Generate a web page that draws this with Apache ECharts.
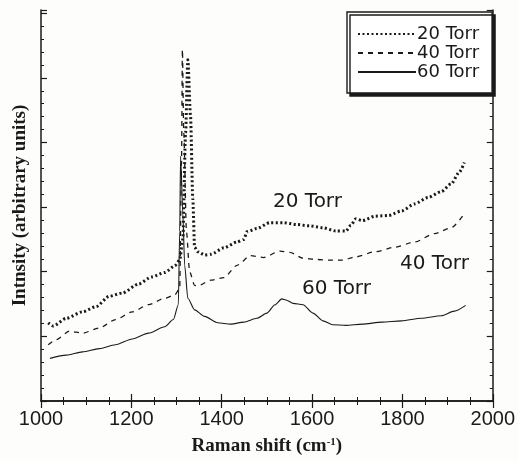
<!DOCTYPE html>
<html>
<head>
<meta charset="utf-8">
<script src="https://cdn.jsdelivr.net/npm/echarts@6/dist/echarts.min.js"></script>
<style>
  html, body { margin: 0; padding: 0; background: #fdfdfb; }
  #main { width: 518px; height: 461px; }
</style>
</head>
<body>
<div id="main"></div>
<script>
// raman spectra (arbitrary units)
const xTicks = ['1000', '1200', '1400', '1600', '1800', '2000'];

const torr20X = [1016, 1027, 1056, 1092, 1122, 1151, 1180, 1216, 1245, 1274, 1296, 1307, 1314, 1320, 1325, 1331, 1336, 1340, 1347, 1362, 1376, 1405, 1434, 1449, 1456, 1478, 1507, 1536, 1566, 1595, 1624, 1653, 1675, 1686, 1697, 1711, 1740, 1769, 1798, 1827, 1857, 1886, 1908, 1926, 1937];
const torr20Y = [1.21, 1.16, 1.28, 1.38, 1.46, 1.62, 1.67, 1.81, 1.92, 1.99, 2.09, 2.18, 2.51, 4.15, 5.28, 4.41, 3.13, 2.38, 2.31, 2.26, 2.27, 2.37, 2.46, 2.50, 2.62, 2.67, 2.76, 2.76, 2.73, 2.71, 2.68, 2.63, 2.63, 2.72, 2.82, 2.79, 2.86, 2.87, 2.94, 3.05, 3.15, 3.24, 3.36, 3.54, 3.69];

const torr40X = [1016, 1034, 1063, 1092, 1129, 1165, 1202, 1238, 1274, 1296, 1307, 1311, 1313, 1316, 1322, 1329, 1340, 1347, 1376, 1405, 1434, 1464, 1493, 1529, 1551, 1580, 1609, 1638, 1667, 1697, 1740, 1784, 1827, 1871, 1908, 1937];
const torr40Y = [0.87, 0.95, 1.08, 1.05, 1.13, 1.26, 1.38, 1.49, 1.59, 1.64, 1.74, 3.64, 5.44, 4.15, 2.62, 2.00, 1.79, 1.78, 1.87, 1.91, 2.10, 2.25, 2.22, 2.32, 2.30, 2.21, 2.19, 2.18, 2.18, 2.23, 2.31, 2.38, 2.46, 2.59, 2.68, 2.90];

const torr60X = [1020, 1056, 1092, 1129, 1165, 1202, 1238, 1274, 1293, 1304, 1307, 1309, 1314, 1318, 1325, 1340, 1362, 1391, 1420, 1449, 1478, 1500, 1518, 1533, 1544, 1558, 1580, 1602, 1624, 1646, 1675, 1711, 1755, 1798, 1842, 1886, 1915, 1940];
const torr60Y = [0.66, 0.71, 0.76, 0.81, 0.87, 0.96, 1.05, 1.15, 1.26, 1.49, 2.62, 3.79, 2.90, 2.10, 1.59, 1.41, 1.31, 1.21, 1.19, 1.22, 1.28, 1.36, 1.49, 1.58, 1.56, 1.51, 1.49, 1.36, 1.24, 1.18, 1.17, 1.19, 1.22, 1.24, 1.28, 1.32, 1.39, 1.48];

function pairs(xs, ys) {
    return xs.map(function (x, i) { return [x, ys[i]]; });
}

const ink = '#1a1a1a';
const sans = 'Liberation Sans, Arial, sans-serif';
const wide = 'DejaVu Sans, Verdana, sans-serif';
const serif = 'Liberation Serif, Times New Roman, serif';

let chart = echarts.init(document.getElementById('main'));

const yAxisBase = {
    type: 'value',
    min: 0,
    max: 6.05,
    interval: 1,
    axisLine: { show: true, lineStyle: { color: ink, width: 1.5 } },
    axisTick: { show: true, inside: true, length: 6, lineStyle: { color: ink, width: 1.2 } },
    minorTick: { show: true, splitNumber: 5, length: 3, lineStyle: { color: ink, width: 1 } },
    axisLabel: { show: false },
    splitLine: { show: false }
};

const xAxisBase = {
    type: 'value',
    min: 1000,
    max: 2000,
    interval: 200,
    axisLine: { show: true, lineStyle: { color: ink, width: 1.5 } },
    axisTick: { show: true, inside: true, length: 7, lineStyle: { color: ink, width: 1.2 } },
    minorTick: { show: true, splitNumber: 4, length: 4, lineStyle: { color: ink, width: 1 } },
    splitLine: { show: false }
};

chart.setOption({
    backgroundColor: '#fdfdfb',
    animation: false,
    grid: { left: 41, right: 19, top: 10, bottom: 58 },
    legend: {
        orient: 'vertical',
        left: 347,
        top: 12,
        padding: [13, 13, 12, 10],
        itemGap: 1,
        itemWidth: 58,
        itemHeight: 15,
        backgroundColor: '#fff',
        borderColor: ink,
        borderWidth: 1.4,
        shadowColor: ink,
        shadowBlur: 0,
        shadowOffsetX: 3,
        shadowOffsetY: 3,
        itemStyle: { opacity: 0 },
        textStyle: { fontFamily: wide, fontSize: 18, color: ink, padding: [0, 0, 0, -4], lineHeight: 15 },
        data: ['20 Torr', '40 Torr', '60 Torr']
    },
    xAxis: [
        Object.assign({}, xAxisBase, {
            position: 'bottom',
            axisLabel: {
                margin: 8,
                fontFamily: sans,
                fontSize: 20,
                color: ink,
                formatter: function (v) { return xTicks.indexOf(String(v)) >= 0 ? String(v) : ''; }
            },
            name: 'Raman shift (cm{sup|-1})',
            nameLocation: 'middle',
            nameGap: 36,
            nameTextStyle: {
                fontFamily: serif,
                fontSize: 19,
                fontWeight: 'bold',
                color: ink,
                rich: { sup: { fontFamily: serif, fontSize: 11, fontWeight: 'bold', verticalAlign: 'top', padding: [0, 0, 8, 0], color: ink } }
            }
        }),
        Object.assign({}, xAxisBase, { position: 'top', axisLabel: { show: false } })
    ],
    yAxis: [
        Object.assign({}, yAxisBase, {
            position: 'left',
            name: 'Intnsity (arbitrary units)',
            nameLocation: 'middle',
            nameGap: 11,
            nameTextStyle: { fontFamily: serif, fontSize: 19, fontWeight: 'bold', color: ink }
        }),
        Object.assign({}, yAxisBase, { position: 'right' })
    ],
    series: [
        {
            name: '20 Torr',
            type: 'line',
            data: pairs(torr20X, torr20Y),
            showSymbol: false,
            symbol: 'none',
            smooth: 0.25,
            smoothMonotone: 'x',
            lineStyle: { color: ink, width: 3, type: [2, 2.5] },
            itemStyle: { color: ink }
        },
        {
            name: '40 Torr',
            type: 'line',
            data: pairs(torr40X, torr40Y),
            showSymbol: false,
            symbol: 'none',
            smooth: 0.25,
            smoothMonotone: 'x',
            lineStyle: { color: ink, width: 1.3, type: [5, 5] },
            itemStyle: { color: ink }
        },
        {
            name: '60 Torr',
            type: 'line',
            data: pairs(torr60X, torr60Y),
            showSymbol: false,
            symbol: 'none',
            smooth: 0.25,
            smoothMonotone: 'x',
            lineStyle: { color: ink, width: 1.1, type: 'solid' },
            itemStyle: { color: ink }
        }
    ],
    graphic: [
        { type: 'text', left: 273, top: 192, style: { text: '20 Torr', font: '20px ' + wide, fill: ink } },
        { type: 'text', left: 400, top: 254, style: { text: '40 Torr', font: '20px ' + wide, fill: ink } },
        { type: 'text', left: 302, top: 279, style: { text: '60 Torr', font: '20px ' + wide, fill: ink } }
    ]
});
</script>
</body>
</html>
